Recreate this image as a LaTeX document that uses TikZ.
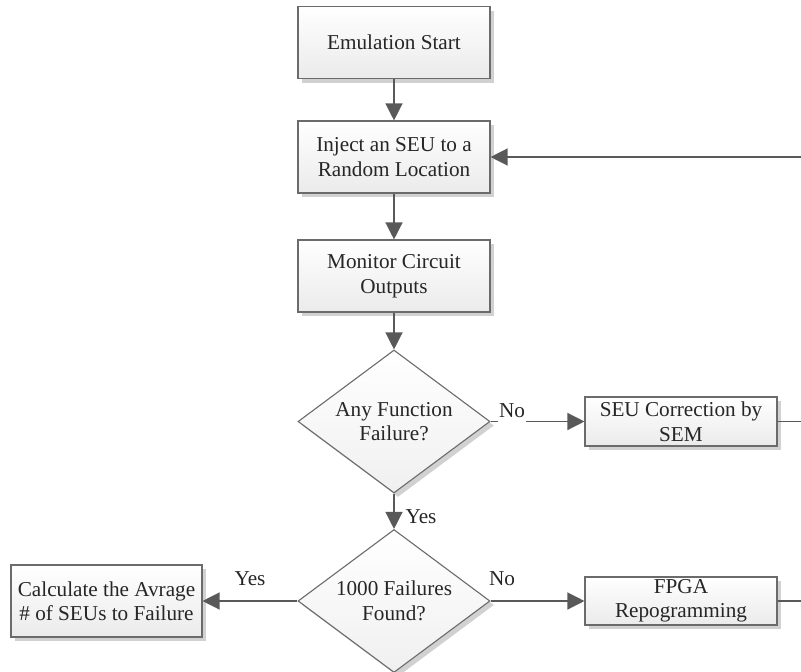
\documentclass[tikz,border=0pt]{standalone}
\usepackage{fontspec}
\setmainfont{Liberation Serif}
\usetikzlibrary{arrows.meta,shapes.geometric,shadows}

\begin{document}
\begin{tikzpicture}[x=1pt,y=-1pt,
  every node/.style={font=\fontsize{21.2}{24.5}\selectfont, text=black!85},
  boxshadow/.style={drop shadow={shadow xshift=4pt, shadow yshift=-4pt, fill=black!18, opacity=1}},
  procbox/.style={rectangle, draw=black!58, line width=1.1pt, top color=white, bottom color=black!8,
    minimum width=192pt, minimum height=72pt, align=center, inner sep=0pt, boxshadow},
  decision/.style={diamond, draw=black!58, line width=1.1pt, top color=white, bottom color=black!6,
    aspect=1.34, minimum width=192pt, minimum height=143pt, align=center, inner sep=0pt, boxshadow},
  flow/.style={draw=black!65, line width=1.3pt, -{Triangle[length=17pt,width=17pt]}},
  plain/.style={draw=black!65, line width=1.3pt},
  lbl/.style={anchor=base, inner sep=1pt},
  cutlbl/.style={lbl, fill=white, text depth=5pt}
]
\useasboundingbox (0,0) rectangle (801,672);

% process steps
\node[procbox] (start) at (394,42.5) {Emulation Start};
\node[procbox] (inject) at (394,157) {Inject an SEU to a\\Random Location};
\node[procbox] (monitor) at (394,276) {Monitor Circuit\\Outputs};
\node[decision] (anyfail) at (394,421.5) {Any Function\\Failure?};
\node[decision] (thousand) at (394,601) {1000 Failures\\Found?};
\node[procbox, minimum height=49pt] (sem) at (681,421.5) {SEU Correction by\\SEM};
\node[procbox, minimum height=48pt] (fpga) at (681,601) {FPGA\\Repogramming};
\node[procbox, minimum width=191pt] (calc) at (106.5,601) {Calculate the Avrage\\\# of SEUs to Failure};

% loop-back line ends at the right margin
\coordinate (loopin) at (801,157);
\coordinate (semout) at (801,421.5);
\coordinate (fpgaout) at (801,601);

% main flow
\draw[flow] (start) -- (inject);
\draw[flow] (inject) -- (monitor);
\draw[flow] (monitor) -- (anyfail);
\draw[flow] (anyfail) -- (thousand);
\draw[flow] (anyfail) -- (sem);
\draw[flow] (thousand) -- (fpga);
\draw[flow] (thousand) -- (calc);
\draw[flow] (loopin) -- (inject);
\draw[plain] (sem) -- (semout);
\draw[plain] (fpga) -- (fpgaout);

% branch labels
\node[cutlbl] (no1) at (512,417) {No};
\node[lbl] (yes1) at (421,523) {Yes};
\node[lbl] (no2) at (502,585) {No};
\node[lbl] (yes2) at (250,585) {Yes};
\end{tikzpicture}
\end{document}
